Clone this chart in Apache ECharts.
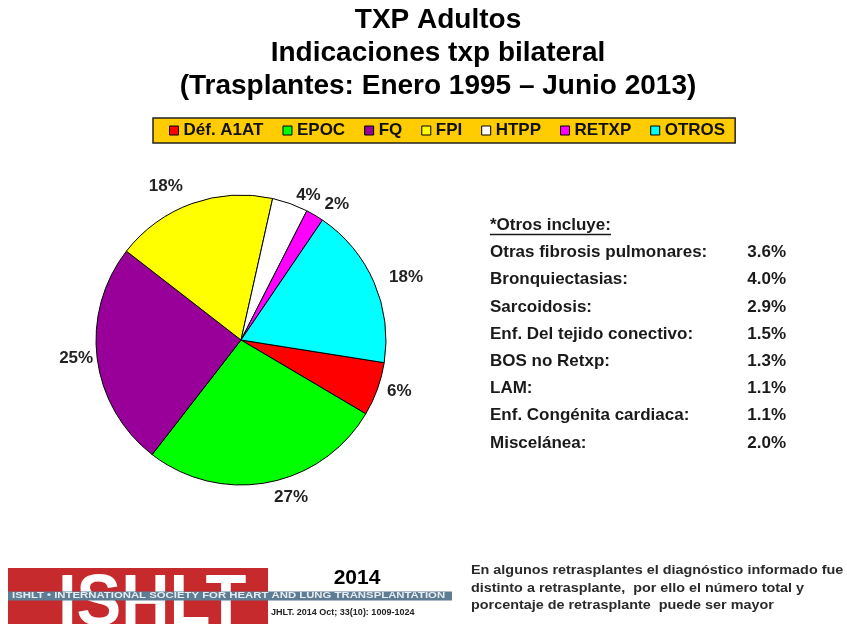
<!DOCTYPE html>
<html>
<head>
<meta charset="utf-8">
<script src="https://cdn.jsdelivr.net/npm/echarts@6/dist/echarts.min.js"></script>
<style>
  html, body { margin: 0; padding: 0; background: #ffffff; }
  #chart { width: 847px; height: 624px; }
</style>
</head>
<body>
<div id="chart"></div>
<script>
// Indications for bilateral lung transplant (adults), share of each group in %
const categories = ['Déf. A1AT', 'EPOC', 'FQ', 'FPI', 'HTPP', 'RETXP', 'OTROS'];
const shares = [6, 27, 25, 18, 4, 2, 18];
const sliceColors = ['#FF0000', '#00FF00', '#990099', '#FFFF00', '#FFFFFF', '#FF00FF', '#00FFFF'];
// distance of each percentage label from the rim
const labelGaps = [7, 15, 1, 18, 9, 13, 13];

// Breakdown of the "OTROS" group
const otrosTitle = '*Otros incluye:';
const otrosNames = [
  'Otras fibrosis pulmonares:',
  'Bronquiectasias:',
  'Sarcoidosis:',
  'Enf. Del tejido conectivo:',
  'BOS no Retxp:',
  'LAM:',
  'Enf. Congénita cardiaca:',
  'Miscelánea:'
];
const otrosValues = [3.6, 4.0, 2.9, 1.5, 1.3, 1.1, 1.1, 2.0];

const titleLines = [
  'TXP Adultos',
  'Indicaciones txp bilateral',
  '(Trasplantes: Enero 1995 – Junio 2013)'
];
const noteLines = [
  'En algunos retrasplantes el diagnóstico informado fue',
  'distinto a retrasplante,  por ello el número total y',
  'porcentaje de retrasplante  puede ser mayor'
];
const bandText = 'ISHLT • INTERNATIONAL SOCIETY FOR HEART AND LUNG TRANSPLANTATION';
const logoWord = 'ISHLT';
const logoYear = '2014';
const citation = 'JHLT. 2014 Oct; 33(10): 1009-1024';

const FF = "'Liberation Sans', Arial, Helvetica, sans-serif";

const chart = echarts.init(document.getElementById('chart'), null, { renderer: 'canvas' });

const graphics = [];

// Title block
titleLines.forEach((t, i) => {
  graphics.push({
    type: 'text', x: 438, y: 20 + i * 33.3, silent: true,
    style: { text: t, font: 'bold 28px ' + FF, fill: '#000', align: 'center', verticalAlign: 'middle' }
  });
});

// "Otros" breakdown table
graphics.push({
  type: 'text', x: 490, y: 225, silent: true,
  style: { text: otrosTitle, font: 'bold 17px ' + FF, fill: '#1a1a1a', align: 'left', verticalAlign: 'middle' }
});
graphics.push({
  type: 'line', silent: true,
  shape: { x1: 490, y1: 234.5, x2: 611, y2: 234.5 },
  style: { stroke: '#1a1a1a', lineWidth: 1.5 }
});
otrosNames.forEach((n, i) => {
  const y = 252.5 + i * 27.2;
  graphics.push({
    type: 'text', x: 490, y: y, silent: true,
    style: { text: n, font: 'bold 17px ' + FF, fill: '#1a1a1a', align: 'left', verticalAlign: 'middle' }
  });
  graphics.push({
    type: 'text', x: 786, y: y, silent: true,
    style: { text: otrosValues[i].toFixed(1) + '%', font: 'bold 17px ' + FF, fill: '#1a1a1a', align: 'right', verticalAlign: 'middle' }
  });
});

// Society logo block
graphics.push({
  type: 'rect', silent: true,
  shape: { x: 8, y: 568, width: 260, height: 60 },
  style: { fill: '#C62A2C' }
});
graphics.push({
  type: 'text', x: 58, y: 569, scaleX: 0.93, originX: 0, silent: true,
  style: { text: logoWord, font: 'bold 72px ' + FF, fill: '#FFFFFF', align: 'left', verticalAlign: 'top' }
});
graphics.push({
  type: 'rect', silent: true,
  shape: { x: 8, y: 591.5, width: 444, height: 9 },
  style: { fill: '#5E7D94' }
});
graphics.push({
  type: 'text', x: 12, y: 596, scaleX: 1.29, originX: 0, silent: true,
  style: { text: bandText, font: 'bold 8.8px ' + FF, fill: '#E6ECF0', align: 'left', verticalAlign: 'middle' }
});
graphics.push({
  type: 'text', x: 357, y: 578, silent: true,
  style: { text: logoYear, font: 'bold 21px ' + FF, fill: '#000', align: 'center', verticalAlign: 'middle' }
});
graphics.push({
  type: 'text', x: 271, y: 613, silent: true,
  style: { text: citation, font: 'bold 9px ' + FF, fill: '#222', align: 'left', verticalAlign: 'middle' }
});

// Footnote on re-transplants
noteLines.forEach((t, i) => {
  graphics.push({
    type: 'text', x: 471, y: 570.5 + i * 17.7, scaleX: 1.15, originX: 0, silent: true,
    style: { text: t, font: 'bold 12.5px ' + FF, fill: '#2a2a2a', align: 'left', verticalAlign: 'middle' }
  });
});

chart.setOption({
  backgroundColor: '#FFFFFF',
  animation: false,
  legend: {
    left: 153, top: 118,
    orient: 'horizontal',
    icon: 'rect',
    itemWidth: 9, itemHeight: 9,
    itemGap: 19,
    padding: [4, 10, 4, 16],
    backgroundColor: '#FFCC00',
    borderColor: '#222',
    borderWidth: 1.5,
    selectedMode: false,
    itemStyle: { borderColor: '#000', borderWidth: 1 },
    textStyle: { fontSize: 17, fontWeight: 'bold', color: '#111', fontFamily: FF },
    data: categories
  },
  series: [{
    type: 'pie',
    center: [241, 340],
    radius: 145,
    startAngle: -9,
    clockwise: true,
    avoidLabelOverlap: false,
    silent: true,
    itemStyle: { borderColor: '#000', borderWidth: 1 },
    label: {
      show: true, position: 'outside', formatter: '{c}%',
      fontSize: 17, fontWeight: 'bold', color: '#222', fontFamily: FF,
      distanceToLabelLine: 3
    },
    labelLine: { show: false, length: 11, length2: 0 },
    emphasis: { disabled: true },
    data: categories.map((c, i) => ({
      name: c,
      value: shares[i],
      itemStyle: { color: sliceColors[i] },
      labelLine: { show: false, length: labelGaps[i], length2: 0 }
    }))
  }],
  graphic: graphics
});
</script>
</body>
</html>
